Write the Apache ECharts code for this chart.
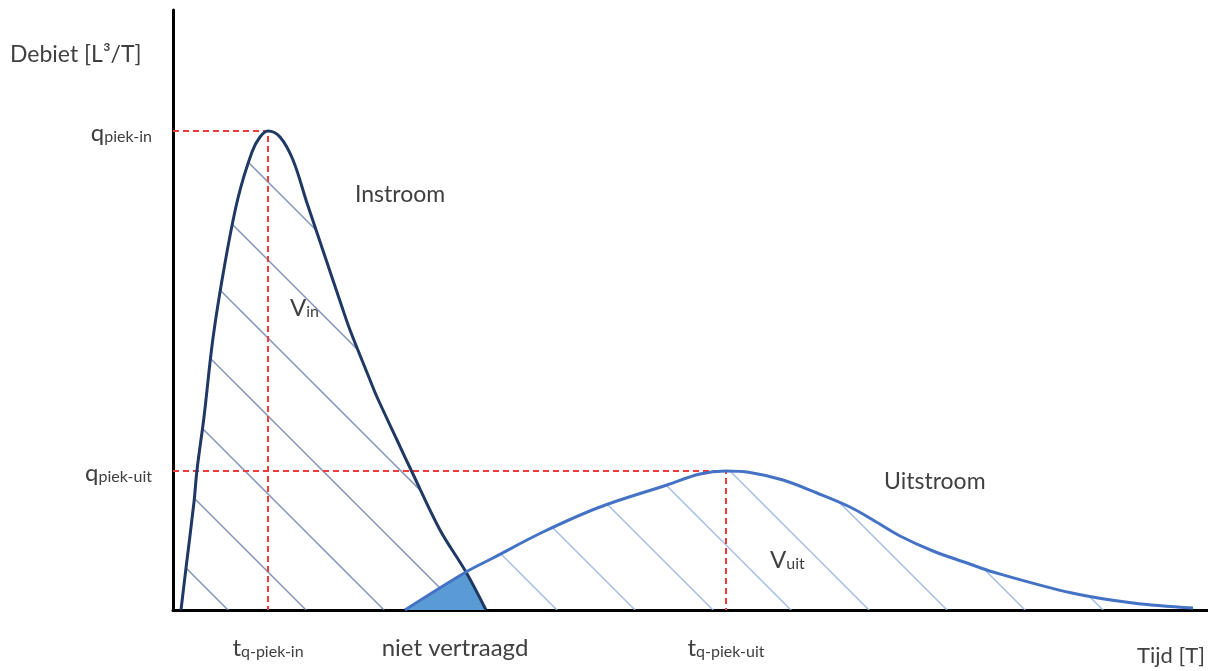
<!DOCTYPE html>
<html>
<head>
<meta charset="utf-8">
<script src="https://cdn.jsdelivr.net/npm/echarts@6/dist/echarts.min.js"></script>
<style>
html,body{margin:0;padding:0;background:#fff;}
#chart{width:1208px;height:671px;}
</style>
</head>
<body>
<div id="chart"></div>
<script>
// ---- data (time in arbitrary units T, discharge in L^3/T) ----
const inflowT  = [0.8, 1.3, 2.1, 2.4, 3.1, 4.0, 5.2, 6.5, 7.9, 8.7, 9.5, 10.7, 12.0, 13.4, 15.15, 16.9, 17.7, 19.7, 20.4, 22.4, 23.9, 26.7, 29.3, 31.3];
const inflowQ  = [0,   4.2, 10.8, 14.0, 19.3, 27.2, 34.7, 41.2, 45.8, 47.3, 47.9, 47.3, 45.0, 40.7, 35.5, 30.3, 28.0, 23.0, 21.3, 17.0, 13.8, 8.0, 3.8, 0];
const outflowT = [23.2, 29.3, 32.0, 37.0, 42.7, 49.4, 52.7, 55.3, 57.7, 61.0, 64.4, 67.7, 70.0, 72.7, 76.0, 79.4, 82.0, 89.9, 96.0, 102.0];
const outflowQ = [0,    3.8,  5.2,  7.8,  10.3, 12.5, 13.6, 13.9, 13.75, 13.0, 11.7, 10.3, 9.0,  7.4,  5.9,  4.7,  3.8,  1.7,  0.7,  0.2];
const overlapT = [23.2, 29.3, 31.3];
const overlapQ = [0,    3.8,  0];
const peakInT = 9.5,  peakInQ = 47.9;
const peakOutT = 55.3, peakOutQ = 13.9;
const nietVertraagdT = 28.2;
const xTickValues = [peakInT, nietVertraagdT, peakOutT];
const xTickLabels = ['{b|t}{s|q-piek-in}', '{n|niet vertraagd}', '{b|t}{s|q-piek-uit}'];
const yTickValues = [peakOutQ, peakInQ];
const yTickLabels = ['{b|q}{s|piek-uit}', '{b|q}{s|piek-in}'];

const zip = (a, b) => a.map((v, i) => [v, b[i]]);

function hatch(color, spacing, offset, width) {
  const c = document.createElement('canvas');
  c.width = spacing; c.height = spacing;
  const g = c.getContext('2d');
  g.strokeStyle = color; g.lineWidth = width;
  g.beginPath();
  for (let k = -2; k <= 2; k++) {
    const x0 = offset + k * spacing;
    g.moveTo(x0 - 10, -10);
    g.lineTo(x0 + spacing + 10, spacing + 10);
  }
  g.stroke();
  return c;
}

const font = 'Lato, "Open Sans", sans-serif';
const txt = '#404040';
const rich = {
  b: {fontSize: 24, color: txt, fontFamily: font, verticalAlign: 'bottom', lineHeight: 28},
  s: {fontSize: 16, color: txt, fontFamily: font, verticalAlign: 'bottom', lineHeight: 23},
  n: {fontSize: 24, color: txt, fontFamily: font, verticalAlign: 'bottom', lineHeight: 28}
};
const richG = {
  b: {fontSize: 24, fill: txt, fontFamily: font, verticalAlign: 'bottom', lineHeight: 28},
  s: {fontSize: 16, fill: txt, fontFamily: font, verticalAlign: 'bottom', lineHeight: 23}
};

const chart = echarts.init(document.getElementById('chart'), null, {renderer: 'canvas'});
const dash = {color: '#EE3B3B', width: 2, type: [6, 4]};

chart.setOption({
  animation: false,
  backgroundColor: '#ffffff',
  grid: {left: 173, right: 0, top: 10, bottom: 61, containLabel: false},
  xAxis: {
    type: 'value', min: 0, max: 103.5,
    axisLine: {show: true, lineStyle: {color: '#000', width: 3}},
    axisTick: {show: false},
    splitLine: {show: false},
    axisLabel: {
      customValues: xTickValues,
      margin: 22,
      formatter: v => xTickLabels[xTickValues.indexOf(v)] || '',
      rich: rich
    }
  },
  yAxis: {
    type: 'value', min: 0, max: 60,
    axisLine: {show: true, lineStyle: {color: '#000', width: 3}},
    axisTick: {show: false},
    splitLine: {show: false},
    axisLabel: {
      customValues: yTickValues,
      margin: 21,
      formatter: v => yTickLabels[yTickValues.indexOf(v)] || '',
      rich: rich
    }
  },
  series: [
    {type: 'line', name: 'Instroom hatch', data: zip(inflowT, inflowQ), smooth: 0.35,
     symbol: 'none', lineStyle: {width: 0}, z: 1,
     areaStyle: {color: {image: hatch('rgba(110,128,170,0.85)', 78, 8, 1.5), repeat: 'repeat'}, opacity: 1}},
    {type: 'line', name: 'Uitstroom hatch', data: zip(outflowT, outflowQ), smooth: 0.35,
     symbol: 'none', lineStyle: {width: 0}, z: 1,
     areaStyle: {color: {image: hatch('rgba(150,178,228,0.9)', 78, 25, 1.4), repeat: 'repeat'}, opacity: 1}},
    {type: 'line', name: 'niet vertraagd', data: zip(overlapT, overlapQ), symbol: 'none',
     lineStyle: {width: 0}, z: 2, areaStyle: {color: '#5B9BD5', opacity: 1}},
    {type: 'line', name: 'piek-in', data: [[0, peakInQ], [peakInT, peakInQ], [peakInT, 0]], symbol: 'none',
     lineStyle: dash, z: 3},
    {type: 'line', name: 'piek-uit', data: [[0, peakOutQ], [peakOutT, peakOutQ], [peakOutT, 0]], symbol: 'none',
     lineStyle: dash, z: 3},
    {type: 'line', name: 'Instroom', data: zip(inflowT, inflowQ), smooth: 0.35,
     symbol: 'none', lineStyle: {color: '#1F3864', width: 3}, z: 4},
    {type: 'line', name: 'Uitstroom', data: zip(outflowT, outflowQ), smooth: 0.35,
     symbol: 'none', lineStyle: {color: '#4472C4', width: 3}, z: 4}
  ],
  graphic: [
    {type: 'text', left: 10, top: 43, style: {text: 'Debiet [L³/T]', font: '23px ' + font, fill: txt}},
    {type: 'text', right: 3, top: 645, style: {text: 'Tijd [T]', font: '22px ' + font, fill: txt}},
    {type: 'text', left: 355, top: 183, style: {text: 'Instroom', font: '23px ' + font, fill: txt}},
    {type: 'text', left: 884, top: 470, style: {text: 'Uitstroom', font: '23px ' + font, fill: txt}},
    {type: 'text', left: 290, top: 296, style: {text: '{b|V}{s|in}', rich: richG}},
    {type: 'text', left: 770, top: 548, style: {text: '{b|V}{s|uit}', rich: richG}}
  ]
});
</script>
</body>
</html>
